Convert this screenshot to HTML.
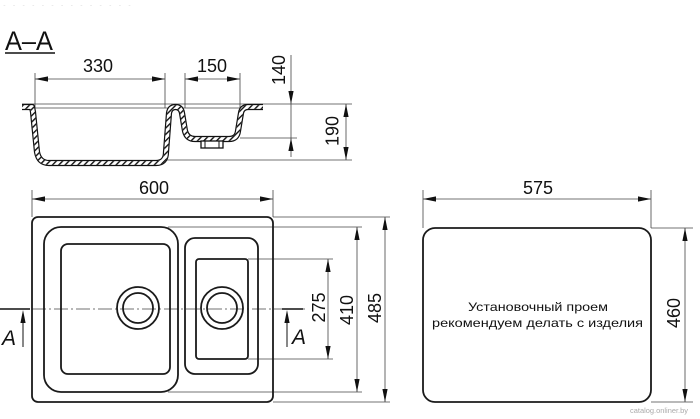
<!DOCTYPE html>
<html><head><meta charset="utf-8"><style>
html,body{margin:0;padding:0;background:#fff;}
svg{display:block;}
text{font-family:"Liberation Sans","DejaVu Sans",sans-serif;fill:#111;}
</style></head><body>
<svg width="700" height="419" viewBox="0 0 700 419" xmlns="http://www.w3.org/2000/svg">
<defs>
<g id="au"><polygon points="0,0 -2.6,13 2.6,13" fill="#111"/></g>
<g id="ad"><polygon points="0,0 -2.6,-13 2.6,-13" fill="#111"/></g>
<g id="al"><polygon points="0,0 13,-2.6 13,2.6" fill="#111"/></g>
<g id="ar"><polygon points="0,0 -13,-2.6 -13,2.6" fill="#111"/></g>
<pattern id="hatch" patternUnits="userSpaceOnUse" width="4.5" height="4.5" patternTransform="rotate(45)">
  <rect x="0" y="0" width="1.4" height="4.5" fill="#111"/>
</pattern>
<path id="pp" d="M22,107 L32,107 L33,112 L37,152 Q39,163 49,163 L156,163 Q166,163 166,152 L169,113 Q170,107 175.5,107 Q181,107 182,113 L185,131 Q187,139 195,139 L229,139 Q237,139 238,131 L241,113 Q242,107 248,107 L263,107"/>
<mask id="pm" maskUnits="userSpaceOnUse" x="0" y="90" width="300" height="90">
  <use href="#pp" fill="none" stroke="#fff" stroke-width="3.8" stroke-linejoin="round"/>
</mask>
</defs>

<!-- faint header text -->
<text x="2" y="6" font-size="5" style="fill:#ddd" textLength="130" lengthAdjust="spacingAndGlyphs">. . . . . . . . . . . . . .</text>

<!-- A-A title -->
<text x="5" y="50" font-size="27" textLength="48" lengthAdjust="spacingAndGlyphs">A–A</text>
<line x1="5" y1="53" x2="55" y2="53" stroke="#111" stroke-width="1.6"/>

<!-- ===== Section view ===== -->
<g stroke="#444" stroke-width="0.8" fill="none">
  <line x1="35" y1="73" x2="35" y2="108"/>
  <line x1="165" y1="73" x2="165" y2="108"/>
  <line x1="35" y1="79" x2="165" y2="79"/>
  <line x1="185" y1="73" x2="185" y2="108"/>
  <line x1="240" y1="73" x2="240" y2="108"/>
  <line x1="185" y1="79" x2="240" y2="79"/>
  <line x1="22" y1="104" x2="352" y2="104"/>
  <line x1="30" y1="108" x2="246" y2="108"/>
  <line x1="240" y1="138" x2="297" y2="138"/>
  <line x1="165" y1="160" x2="352" y2="160"/>
  <line x1="291" y1="55" x2="291" y2="157"/>
  <line x1="346" y1="104" x2="346" y2="160"/>
</g>
<use href="#al" x="35" y="79"/><use href="#ar" x="165" y="79"/>
<use href="#al" x="185" y="79"/><use href="#ar" x="240" y="79"/>
<use href="#ad" x="291" y="104"/><use href="#au" x="291" y="138"/>
<use href="#au" x="346" y="104"/><use href="#ad" x="346" y="160"/>
<text x="98" y="72" font-size="18" text-anchor="middle">330</text>
<text x="212" y="72" font-size="18" text-anchor="middle">150</text>
<text transform="translate(278.5,70) rotate(-90)" font-size="18" text-anchor="middle" dy="6.5">140</text>
<text transform="translate(332,131) rotate(-90)" font-size="18" text-anchor="middle" dy="6.5">190</text>

<!-- profile -->
<use href="#pp" fill="none" stroke="#111" stroke-width="6.2" stroke-linejoin="round"/>
<use href="#pp" fill="none" stroke="#fff" stroke-width="3.8" stroke-linejoin="round"/>
<rect x="0" y="90" width="300" height="90" fill="url(#hatch)" mask="url(#pm)"/>
<!-- drain -->
<rect x="201" y="141" width="22" height="7" fill="#fff" stroke="#111" stroke-width="1.3"/>
<line x1="205" y1="141" x2="205" y2="148" stroke="#111" stroke-width="1"/>
<line x1="219" y1="141" x2="219" y2="148" stroke="#111" stroke-width="1"/>

<!-- ===== Plan view ===== -->
<g stroke="#444" stroke-width="0.8" fill="none">
  <line x1="32" y1="190" x2="32" y2="217"/>
  <line x1="273" y1="190" x2="273" y2="217"/>
  <line x1="32" y1="199" x2="273" y2="199"/>
  <line x1="273" y1="217" x2="390" y2="217"/>
  <line x1="273" y1="402" x2="390" y2="402"/>
  <line x1="168" y1="227" x2="362" y2="227"/>
  <line x1="168" y1="392" x2="362" y2="392"/>
  <line x1="248" y1="259" x2="333" y2="259"/>
  <line x1="248" y1="359" x2="333" y2="359"/>
  <line x1="328" y1="259" x2="328" y2="359"/>
  <line x1="357" y1="227" x2="357" y2="392"/>
  <line x1="385" y1="217" x2="385" y2="402"/>
  <line x1="32" y1="309" x2="305" y2="309" stroke-dasharray="14 3 2 3"/>
</g>
<use href="#al" x="32" y="199"/><use href="#ar" x="273" y="199"/>
<use href="#au" x="328" y="259"/><use href="#ad" x="328" y="359"/>
<use href="#au" x="357" y="227"/><use href="#ad" x="357" y="392"/>
<use href="#au" x="385" y="217"/><use href="#ad" x="385" y="402"/>
<text x="154" y="194" font-size="18" text-anchor="middle">600</text>
<text transform="translate(318.5,307.5) rotate(-90)" font-size="18" text-anchor="middle" dy="6.5">275</text>
<text transform="translate(346.5,310) rotate(-90)" font-size="18" text-anchor="middle" dy="6.5">410</text>
<text transform="translate(374.5,308) rotate(-90)" font-size="18" text-anchor="middle" dy="6.5">485</text>

<g fill="none" stroke="#1a1a1a" stroke-width="1.8">
  <rect x="32" y="217" width="241" height="185" rx="6"/>
  <rect x="44" y="227" width="134" height="165" rx="17"/>
  <rect x="61" y="244" width="109" height="130" rx="7"/>
  <rect x="185" y="238" width="73" height="136" rx="10"/>
  <rect x="196" y="259" width="52" height="100" rx="3"/>
  <circle cx="138" cy="308" r="21"/>
  <circle cx="138" cy="308" r="15"/>
  <circle cx="222" cy="308" r="21"/>
  <circle cx="222" cy="308" r="15"/>
</g>

<!-- section marks -->
<line x1="0" y1="309" x2="30" y2="309" stroke="#111" stroke-width="1.4"/>
<line x1="282" y1="309" x2="303" y2="309" stroke="#111" stroke-width="1.4"/>
<line x1="23" y1="318" x2="23" y2="347" stroke="#111" stroke-width="1"/>
<use href="#au" x="23" y="310"/>
<line x1="287" y1="318" x2="287" y2="347" stroke="#111" stroke-width="1"/>
<use href="#au" x="287" y="310"/>
<text x="2" y="345" font-size="21" font-style="italic">A</text>
<text x="292" y="344" font-size="21" font-style="italic">A</text>

<!-- ===== Cut-out ===== -->
<g stroke="#444" stroke-width="0.8" fill="none">
  <line x1="423" y1="190" x2="423" y2="228"/>
  <line x1="651" y1="190" x2="651" y2="228"/>
  <line x1="423" y1="199" x2="651" y2="199"/>
  <line x1="651" y1="228" x2="693" y2="228"/>
  <line x1="651" y1="402" x2="693" y2="402"/>
  <line x1="685" y1="228" x2="685" y2="402"/>
</g>
<use href="#al" x="423" y="199"/><use href="#ar" x="651" y="199"/>
<use href="#au" x="685" y="228"/><use href="#ad" x="685" y="402"/>
<text x="538" y="194" font-size="18" text-anchor="middle">575</text>
<text transform="translate(673.5,313) rotate(-90)" font-size="18" text-anchor="middle" dy="6.5">460</text>
<rect x="423" y="228" width="228" height="174" rx="12" fill="none" stroke="#1a1a1a" stroke-width="1.8"/>
<text x="468" y="311" font-size="12" textLength="140" lengthAdjust="spacingAndGlyphs">Установочный проем</text>
<text x="432" y="327" font-size="12" textLength="211" lengthAdjust="spacingAndGlyphs">рекомендуем делать с изделия</text>

<!-- watermark -->
<text x="630" y="413" font-size="7.5" style="fill:#aaa" textLength="58" lengthAdjust="spacingAndGlyphs">catalog.onliner.by</text>
</svg>
</body></html>
